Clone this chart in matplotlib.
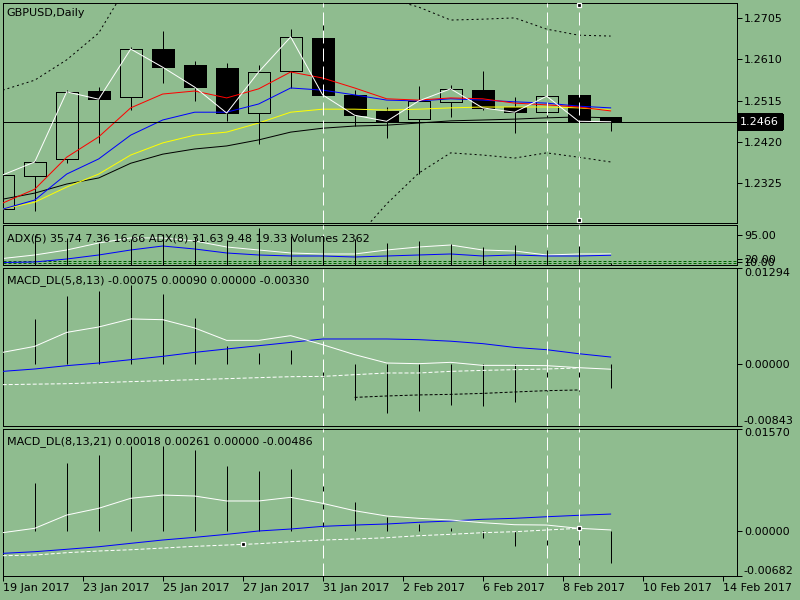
import numpy as np
import matplotlib
matplotlib.use('Agg')
import matplotlib.pyplot as plt

plt.rcParams['font.family'] = ['DejaVu Sans']
plt.rcParams['patch.antialiased'] = False

bg = '#8FBC8F'
LW = 0.72  # one pixel at 100 dpi

# ---- daily GBPUSD candles (19 Jan .. 9 Feb 2017, broker with sunday bars)
opens = [1.2264, 1.2340, 1.2380, 1.2537, 1.2523, 1.2634, 1.2597, 1.2590, 1.2486, 1.2583,
         1.2659, 1.2528, 1.2491, 1.2472, 1.2512, 1.2539, 1.2500, 1.2488, 1.2528, 1.2477]
highs = [1.2347, 1.2377, 1.2539, 1.2546, 1.2639, 1.2676, 1.2606, 1.2602, 1.2597, 1.2680,
         1.2708, 1.2539, 1.2500, 1.2549, 1.2551, 1.2583, 1.2523, 1.2542, 1.2551, 1.2477]
lows = [1.2257, 1.2260, 1.2370, 1.2417, 1.2493, 1.2555, 1.2514, 1.2467, 1.2414, 1.2544,
        1.2528, 1.2456, 1.2428, 1.2345, 1.2477, 1.2493, 1.2440, 1.2477, 1.2442, 1.2444]
closes = [1.2343, 1.2373, 1.2535, 1.2518, 1.2634, 1.2592, 1.2546, 1.2486, 1.2581, 1.2662,
          1.2528, 1.2481, 1.2467, 1.2514, 1.2542, 1.2498, 1.2488, 1.2525, 1.2467, 1.2466]

# moving averages and bands
ma_red = [1.2278, 1.2310, 1.2384, 1.2431, 1.2498, 1.2530, 1.2537, 1.2521, 1.2542, 1.2581,
          1.2567, 1.2544, 1.2519, 1.2516, 1.2521, 1.2519, 1.2509, 1.2505, 1.2500, 1.2491]
ma_blue = [1.2264, 1.2285, 1.2345, 1.2380, 1.2435, 1.2470, 1.2488, 1.2488, 1.2507, 1.2544,
           1.2539, 1.2528, 1.2516, 1.2514, 1.2519, 1.2516, 1.2512, 1.2509, 1.2502, 1.2498]
ma_yellow = [1.2264, 1.2280, 1.2315, 1.2345, 1.2389, 1.2417, 1.2435, 1.2442, 1.2463, 1.2488,
             1.2495, 1.2495, 1.2493, 1.2495, 1.2498, 1.2500, 1.2500, 1.2500, 1.2498, 1.2493]
ma_black = [1.2287, 1.2301, 1.2322, 1.2336, 1.2370, 1.2391, 1.2403, 1.2410, 1.2424, 1.2442,
            1.2451, 1.2456, 1.2458, 1.2463, 1.2468, 1.2470, 1.2472, 1.2475, 1.2477, 1.2475]
band_up = [1.2539, 1.2562, 1.2609, 1.2671, 1.2794, 1.2828, 1.2851, 1.2863, 1.2863, 1.2851,
           1.2828, 1.2789, 1.2752, 1.2731, 1.2701, 1.2703, 1.2706, 1.2680, 1.2666, 1.2664]
band_dn = [1.2054, 1.2042, 1.2031, 1.2031, 1.2042, 1.2054, 1.2066, 1.2077, 1.2089, 1.2112,
           1.2142, 1.2193, 1.2276, 1.2347, 1.2394, 1.2389, 1.2382, 1.2394, 1.2384, 1.2373]
price_ticks = [1.2705, 1.2610, 1.2515, 1.2420, 1.2325]
price_lim = (1.22326, 1.27411)

# ADX / volumes window
adx5 = [21.6, 32.4, 47.8, 69.4, 85.0, 85.0, 75.6, 57.1, 47.8, 38.6,
        35.5, 35.5, 47.8, 57.1, 63.2, 47.8, 44.7, 32.4, 35.5, 35.74]
adx8 = [9.3, 10.8, 20.0, 32.4, 47.8, 60.1, 50.9, 38.6, 32.4, 29.3,
        29.3, 26.2, 29.3, 32.4, 35.5, 29.3, 32.4, 29.3, 29.3, 31.63]
adx_levels = [12.5, 6.8]
adx_ticks = [95, 20, 10]
adx_lim = (0.6, 124.0)
volumes = [17500, 28800, 26000, 21300, 25000, 29800, 26900, 24100, 35400, 27900,
           27900, 24600, 21300, 23200, 20300, 17500, 19400, 14600, 18400, 2362]

# MACD_DL(5,8,13)
m1_hist = [0.00392, 0.00605, 0.00920, 0.00978, 0.01068, 0.00947, 0.00618, 0.00234, 0.00145, 0.00180,
           -0.00207, -0.00496, -0.00667, -0.00645, -0.00555, -0.00568, -0.00523, -0.00365, -0.00365, -0.00330]
m1_main = [0.00153, 0.00234, 0.00423, 0.00496, 0.00605, 0.00595, 0.00483, 0.00315, 0.00315, 0.00379,
           0.00257, 0.00122, 0.00009, 0.00000, 0.00018, -0.00023, -0.00023, -0.00027, -0.00054, -0.00075]
m1_signal = [-0.00104, -0.00072, -0.00027, 0.00009, 0.00054, 0.00099, 0.00153, 0.00199, 0.00243, 0.00288,
             0.00334, 0.00334, 0.00334, 0.00325, 0.00304, 0.00271, 0.00220, 0.00189, 0.00135, 0.00090]
m1_dash = [-0.00284, -0.00277, -0.00271, -0.00257, -0.00243, -0.00230, -0.00216, -0.00203, -0.00189, -0.00176,
           -0.00172, -0.00149, -0.00126, -0.00126, -0.00104, -0.00091, -0.00081, -0.00072, -0.00058, np.nan]
m1_low = [np.nan] * 11 + [-0.00456, -0.00437, -0.00423, -0.00415, -0.00402, -0.00383, -0.00365, -0.00356, np.nan]
m1_lim = (-0.00843, 0.01294)

# MACD_DL(8,13,21)
m2_hist = [0.00450, 0.00731, 0.01037, 0.01164, 0.01302, 0.01302, 0.01241, 0.00996, 0.00920, 0.00955,
           0.00705, 0.00441, 0.00220, 0.00109, 0.00052, -0.00101, -0.00223, -0.00274, -0.00427, -0.00486]
m2_main = [-0.00024, 0.00043, 0.00246, 0.00349, 0.00502, 0.00552, 0.00537, 0.00461, 0.00461, 0.00517,
           0.00425, 0.00312, 0.00231, 0.00196, 0.00170, 0.00129, 0.00098, 0.00093, 0.00043, 0.00018]
m2_signal = [-0.00340, -0.00315, -0.00278, -0.00239, -0.00187, -0.00136, -0.00095, -0.00049, 0.00002, 0.00032,
             0.00073, 0.00093, 0.00109, 0.00135, 0.00155, 0.00181, 0.00196, 0.00220, 0.00242, 0.00261]
m2_dash = [-0.00376, -0.00366, -0.00330, -0.00304, -0.00285, -0.00259, -0.00233, -0.00213, -0.00193, -0.00162,
           -0.00136, -0.00121, -0.00101, -0.00070, -0.00049, -0.00024, -0.00009, 0.00017, 0.00043, np.nan]
m2_lim = (-0.00682, 0.01570)

date_pos = [0, 2.5, 5, 7.5, 10, 12.5, 15, 17.5, 20, 22.5]
date_labels = ['19 Jan 2017', '23 Jan 2017', '25 Jan 2017', '27 Jan 2017', '31 Jan 2017',
               '2 Feb 2017', '6 Feb 2017', '8 Feb 2017', '10 Feb 2017', '14 Feb 2017']

vline_bars = [10, 17, 18]
main_anchor_bars = [18, 18]
main_anchor_vals = [1.27357, 1.22388]
m2_anchor_bars = [7.5, 18]
m2_anchor_vals = [-0.00197, 0.00043]

x = np.arange(len(closes))
xlim = (0, 22.95)

fig = plt.figure(figsize=(8, 6), dpi=100, facecolor=bg)
left, width = 2.7 / 800, (737 - 2.7) / 800


def right_ticks(ax):
    ax.yaxis.tick_right()
    ax.tick_params(axis='y', direction='out', length=3.5, width=LW, pad=1.5,
                   labelsize=8, colors='black')


def panel(top_px, bot_px):
    ax = fig.add_axes([left, 1 - bot_px / 600, width, (bot_px - top_px) / 600])
    ax.set_facecolor(bg)
    for s in ax.spines.values():
        s.set_color('black')
        s.set_linewidth(LW)
    ax.set_xlim(*xlim)
    right_ticks(ax)
    ax.set_xticks([])
    for b in vline_bars:
        ax.axvline(b, color='white', lw=LW, ls=(0, (13, 5)), zorder=5)
    return ax


def caption(ax, text, dy):
    ax.annotate(text, xy=(0, 1), xycoords='axes fraction', xytext=(2.8, dy),
                textcoords='offset points', ha='left', va='baseline', fontsize=8, zorder=10)


# ---- main price window
ax = panel(2.7, 222.7)
ax.set_ylim(*price_lim)
top = np.maximum(opens, closes)
bot = np.minimum(opens, closes)
bear = np.array(closes) < np.array(opens)
ax.vlines(x, top, highs, color='black', lw=LW, zorder=2)
ax.vlines(x, lows, bot, color='black', lw=LW, zorder=2)
ax.bar(x, top - bot, bottom=bot, width=0.68,
       color=['black' if b else 'none' for b in bear], edgecolor='black', lw=LW, zorder=2)
ax.plot(x, band_up, color='black', lw=LW, ls=(0, (2, 3)), zorder=3)
ax.plot(x, band_dn, color='black', lw=LW, ls=(0, (2, 3)), zorder=3)
ax.plot(x, ma_black, color='black', lw=LW, zorder=3)
ax.plot(x, ma_yellow, color='#FFFF00', lw=LW, zorder=3)
ax.plot(x, ma_blue, color='#0000FF', lw=LW, zorder=3)
ax.plot(x, ma_red, color='#FF0000', lw=LW, zorder=3)
ax.plot(x, closes, color='white', lw=LW, zorder=4)
ax.axhline(closes[-1], color='black', lw=LW, zorder=3)
ax.plot(main_anchor_bars, main_anchor_vals, 's', ms=3.2, mfc='black', mec='white', mew=0.9,
        zorder=6, clip_on=False)
ax.set_yticks(price_ticks)
ax.set_yticklabels(['%.4f' % v for v in price_ticks])
ax.text(1.0045, closes[-1], '%.4f' % closes[-1], transform=ax.get_yaxis_transform(),
        ha='left', va='center', fontsize=8, color='white', clip_on=False,
        bbox=dict(boxstyle='square,pad=0.22', fc='black', ec='black'))
caption(ax, 'GBPUSD,Daily', -9.6)

# ---- ADX + volumes
ax = panel(225.3, 265.3)
axv = ax.twinx()
axv.set_xlim(*xlim)
axv.set_ylim(0, 37800)
axv.axis('off')
axv.vlines(x, 0, volumes, color='black', lw=LW)
right_ticks(ax)
ax.set_ylim(*adx_lim)
for lv in adx_levels:
    ax.axhline(lv, color='#006400', lw=LW, ls=(0, (3, 2)), zorder=2)
ax.plot(x, adx5, color='white', lw=LW, zorder=3)
ax.plot(x, adx8, color='#0000FF', lw=LW, zorder=3)
ax.set_yticks(adx_ticks)
ax.set_yticklabels(['%.2f' % v for v in adx_ticks])
caption(axv, 'ADX(5) 35.74 7.36 16.66 ADX(8) 31.63 9.48 19.33 Volumes 2362', -11.5)


def macd_panel(top_px, bot_px, lim, hist, main, signal, dash, title, dy):
    ax = panel(top_px, bot_px)
    ax.set_ylim(*lim)
    ax.vlines(x, 0, hist, color='black', lw=LW, zorder=2)
    ax.plot(x, dash, color='white', lw=LW, ls=(0, (4, 2)), zorder=3)
    ax.plot(x, signal, color='#0000FF', lw=LW, zorder=3)
    ax.plot(x, main, color='white', lw=LW, zorder=4)
    ticks = [lim[1], 0.0, lim[0]]
    ax.set_yticks(ticks)
    ax.set_yticklabels(['%.5f' % v for v in ticks])
    mt = ax.yaxis.get_major_ticks()
    mt[0].label2.set_va('top')
    mt[2].label2.set_va('bottom')
    caption(ax, title, dy)
    return ax


ax = macd_panel(268, 426, m1_lim, m1_hist, m1_main, m1_signal, m1_dash,
                'MACD_DL(5,8,13) -0.00075 0.00090 0.00000 -0.00330', -10.6)
ax.plot(x, m1_low, color='black', lw=LW, ls=(0, (3, 2)), zorder=3)

ax = macd_panel(428.5, 575.7, m2_lim, m2_hist, m2_main, m2_signal, m2_dash,
                'MACD_DL(8,13,21) 0.00018 0.00261 0.00000 -0.00486', -11.2)
ax.plot(m2_anchor_bars, m2_anchor_vals, 's', ms=3.2, mfc='black', mec='white', mew=0.9, zorder=6)
ax.set_xticks(date_pos)
ax.set_xticklabels(date_labels, ha='left')
ax.tick_params(axis='x', direction='out', length=3.5, width=LW, pad=1.5, labelsize=8)

fig.savefig('out.png', dpi=100, facecolor=bg)
